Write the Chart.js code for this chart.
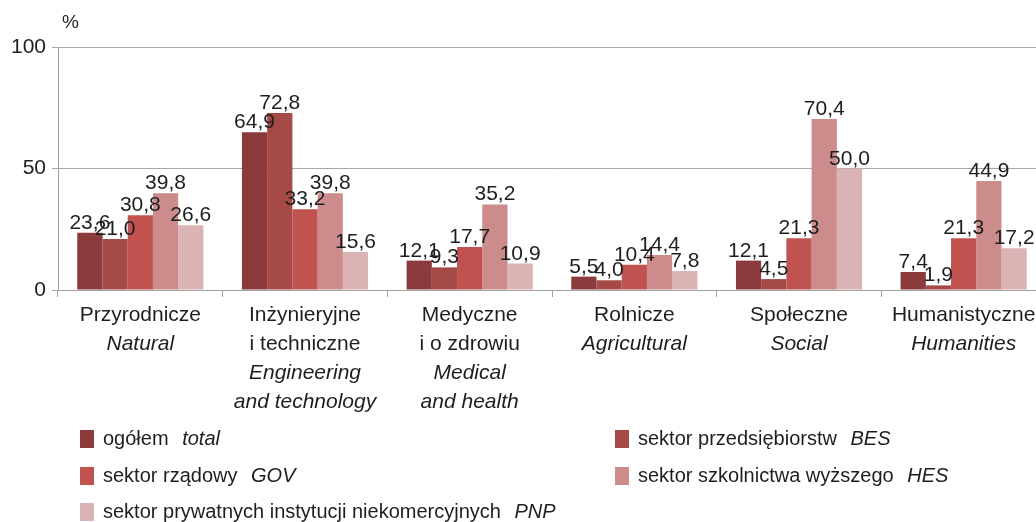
<!DOCTYPE html>
<html>
<head>
<meta charset="utf-8">
<script src="https://cdn.jsdelivr.net/npm/chart.js@4/dist/chart.umd.min.js"></script>
<style>
  html, body { margin: 0; padding: 0; background: #fff; overflow: hidden; }
  body { width: 1036px; height: 522px; position: relative; font-family: "Liberation Sans", Arial, sans-serif; color: #1e1e1e; }
  #wrap { position: absolute; left: 0; top: 0; width: 1046px; height: 522px; }
  #unit { position: absolute; left: 62px; top: 11px; font-size: 19px; }
  .leg { position: absolute; font-size: 20px; white-space: nowrap; line-height: 22px; }
  .leg i { margin-left: 8px; }
  .sw { display: inline-block; width: 14px; height: 18px; margin-right: 9px; vertical-align: -3px; }
</style>
</head>
<body>
<div id="wrap"><canvas id="c" width="1046" height="522"></canvas></div>
<div id="unit">%</div>
<div id="legend"></div>
<script>
// categories: Polish name lines + English (italic) lines
const catPl = [["Przyrodnicze"], ["Inżynieryjne", "i techniczne"], ["Medyczne", "i o zdrowiu"], ["Rolnicze"], ["Społeczne"], ["Humanistyczne"]];
const catEn = [["Natural"], ["Engineering", "and technology"], ["Medical", "and health"], ["Agricultural"], ["Social"], ["Humanities"]];

const seriesPl = ["ogółem", "sektor przedsiębiorstw", "sektor rządowy", "sektor szkolnictwa wyższego", "sektor prywatnych instytucji niekomercyjnych"];
const seriesEn = ["total", "BES", "GOV", "HES", "PNP"];

const total = [23.6, 64.9, 12.1, 5.5, 12.1, 7.4];
const bes   = [21.0, 72.8, 9.3, 4.0, 4.5, 1.9];
const gov   = [30.8, 33.2, 17.7, 10.4, 21.3, 21.3];
const hes   = [39.8, 39.8, 35.2, 14.4, 70.4, 44.9];
const pnp   = [26.6, 15.6, 10.9, 7.8, 50.0, 17.2];

const yTicks = [0, 50, 100];
const colors = ["#8C3B3D", "#A54A47", "#C0524F", "#CC8C8C", "#DBB3B4"];

const fontFam = '"Liberation Sans", Arial, sans-serif';
const allSeries = [total, bes, gov, hes, pnp];

// legend (two columns)
const legPos = [[80, 427], [615, 427], [80, 464], [615, 464], [80, 500]];
const legendEl = document.getElementById('legend');
seriesPl.forEach((name, i) => {
  const d = document.createElement('div');
  d.className = 'leg';
  d.style.left = legPos[i][0] + 'px';
  d.style.top = legPos[i][1] + 'px';
  d.innerHTML = '<span class="sw" style="background:' + colors[i] + '"></span>' + name + ' <i>' + seriesEn[i] + '</i>';
  legendEl.appendChild(d);
});

// value labels above bars, decimal comma
const valueLabels = {
  id: 'valueLabels',
  afterDatasetsDraw(chart) {
    const ctx = chart.ctx;
    ctx.save();
    ctx.font = '21px ' + fontFam;
    ctx.fillStyle = '#1e1e1e';
    ctx.textAlign = 'center';
    ctx.textBaseline = 'alphabetic';
    chart.data.datasets.forEach((ds, di) => {
      chart.getDatasetMeta(di).data.forEach((bar, i) => {
        const txt = ds.data[i].toFixed(1).replace('.', ',');
        ctx.fillText(txt, bar.x, bar.y - 4);
      });
    });
    ctx.restore();
  }
};

// category labels: Polish lines normal, English lines italic
const catLabels = {
  id: 'catLabels',
  afterDraw(chart) {
    const ctx = chart.ctx;
    const xs = chart.scales.x;
    ctx.save();
    ctx.fillStyle = '#1e1e1e';
    ctx.textAlign = 'center';
    ctx.textBaseline = 'middle';
    catPl.forEach((pl, i) => {
      const x = xs.getPixelForValue(i);
      let y = xs.top + 25;
      pl.forEach(line => {
        ctx.font = '21px ' + fontFam;
        ctx.fillText(line, x, y);
        y += 29;
      });
      catEn[i].forEach(line => {
        ctx.font = 'italic 21px ' + fontFam;
        ctx.fillText(line, x, y);
        y += 29;
      });
    });
    ctx.restore();
  }
};

new Chart(document.getElementById('c').getContext('2d'), {
  type: 'bar',
  data: {
    labels: catPl.map(l => l.join(' ')),
    datasets: allSeries.map((d, i) => ({
      label: seriesPl[i] + ' ' + seriesEn[i],
      data: d,
      backgroundColor: colors[i],
      borderWidth: 0,
      categoryPercentage: 0.766,
      barPercentage: 1
    }))
  },
  options: {
    responsive: false,
    animation: false,
    layout: { padding: { top: 47, left: 0, right: 0, bottom: 0 } },
    plugins: { legend: { display: false }, tooltip: { enabled: false } },
    scales: {
      x: {
        grid: { drawOnChartArea: false, color: '#A0A0A0', tickLength: 7, offset: true },
        border: { color: '#A0A0A0', width: 1 },
        ticks: { display: false },
        afterFit: s => { s.height = 232; }
      },
      y: {
        min: 0,
        max: 100,
        afterBuildTicks: s => { s.ticks = yTicks.map(v => ({ value: v })); },
        afterFit: s => { s.width = 58; },
        grid: { color: '#A8A8A8', tickLength: 6, drawOnChartArea: true },
        border: { color: '#A0A0A0', width: 1 },
        ticks: { font: { size: 21, family: fontFam }, color: '#1e1e1e', padding: 6 }
      }
    }
  },
  plugins: [valueLabels, catLabels]
});
</script>
</body>
</html>
